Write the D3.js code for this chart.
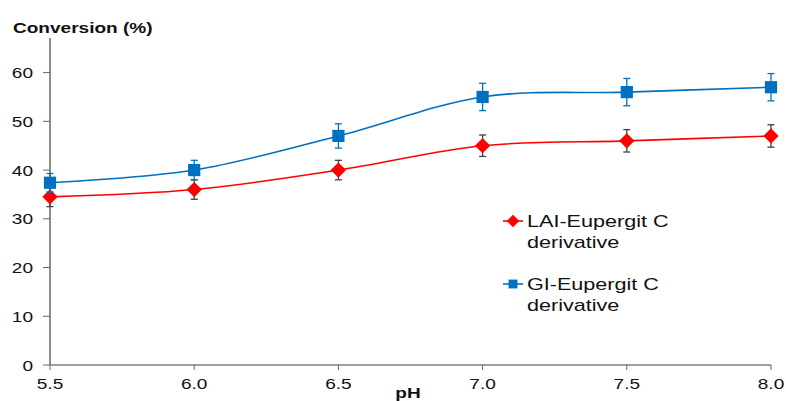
<!DOCTYPE html>
<html>
<head>
<meta charset="utf-8">
<script src="https://d3js.org/d3.v7.min.js"></script>
<style>
  body { margin: 0; background: #fff; }
  svg { display: block; font-family: Arial, "Liberation Sans", sans-serif; }
</style>
</head>
<body>
<div id="chart"></div>
<script>
// data
const phValues = [5.5, 6.0, 6.5, 7.0, 7.5, 8.0];
const xTicks = ["5.5", "6.0", "6.5", "7.0", "7.5", "8.0"];
const yTicks = [0, 10, 20, 30, 40, 50, 60];
const laiValues = [34.5, 36, 40, 45, 46, 47];
const laiErrors = [2, 2, 2, 2.2, 2.3, 2.3];
const giValues = [37.4, 40, 47, 55, 56, 57];
const giErrors = [1.9, 2, 2.5, 2.8, 2.8, 2.8];

const width = 786, height = 401;
const sx = 1.27; // the original picture is stretched sideways

let svg = d3.select("#chart").append("svg")
  .attr("width", width)
  .attr("height", height);

let x = d3.scaleLinear().domain([5.5, 8.0]).range([50, 771]);
let y = d3.scaleLinear().domain([0, 67.1]).range([365, 38]);

function stretchedText(g, px, py, str) {
  return g.append("text")
    .attr("transform", "translate(" + px + "," + py + ") scale(" + sx + ",1)")
    .text(str);
}

// axes
let axisColor = "#404040";
svg.append("line")
  .attr("x1", x(5.5)).attr("x2", x(5.5))
  .attr("y1", y.range()[1]).attr("y2", y(0))
  .attr("stroke", axisColor).attr("stroke-width", 1.2);
svg.append("line")
  .attr("x1", x(5.5)).attr("x2", x(8.0))
  .attr("y1", y(0)).attr("y2", y(0))
  .attr("stroke", axisColor).attr("stroke-width", 1.2);

yTicks.forEach(function(t) {
  svg.append("line")
    .attr("x1", x(5.5) - 7).attr("x2", x(5.5))
    .attr("y1", y(t)).attr("y2", y(t))
    .attr("stroke", "#666");
  stretchedText(svg, 33, y(t) + 5.5, t)
    .attr("text-anchor", "end")
    .attr("font-size", 15)
    .attr("fill", "#111");
});

phValues.forEach(function(p, i) {
  svg.append("line")
    .attr("x1", x(p)).attr("x2", x(p))
    .attr("y1", y(0)).attr("y2", y(0) + 5)
    .attr("stroke", "#666");
  stretchedText(svg, x(p), 389, xTicks[i])
    .attr("text-anchor", "middle")
    .attr("font-size", 15)
    .attr("fill", "#111");
});

stretchedText(svg, 13, 33, "Conversion (%)")
  .attr("font-size", 15)
  .attr("font-weight", "bold")
  .attr("fill", "#111");

stretchedText(svg, 408, 398, "pH")
  .attr("text-anchor", "middle")
  .attr("font-size", 15)
  .attr("font-weight", "bold")
  .attr("fill", "#111");

// series
let series = [
  { name: "LAI", values: laiValues, errors: laiErrors, color: "#FF0000", errColor: "#404040", shape: d3.symbolDiamond2 },
  { name: "GI", values: giValues, errors: giErrors, color: "#0070C0", errColor: "#0070C0", shape: d3.symbolSquare2 }
];

let line = d3.line()
  .x(function(d) { return x(d.ph); })
  .y(function(d) { return y(d.v); })
  .curve(d3.curveCatmullRom.alpha(0));

series.forEach(function(s) {
  let pts = phValues.map(function(p, i) { return { ph: p, v: s.values[i], e: s.errors[i] }; });

  svg.append("path")
    .datum(pts)
    .attr("d", line)
    .attr("fill", "none")
    .attr("stroke", s.color)
    .attr("stroke-width", 1.6);

  let err = svg.append("g").attr("stroke", s.errColor).attr("stroke-width", 1.3);
  pts.forEach(function(d) {
    err.append("line")
      .attr("x1", x(d.ph)).attr("x2", x(d.ph))
      .attr("y1", y(d.v + d.e)).attr("y2", y(d.v - d.e));
    [d.v + d.e, d.v - d.e].forEach(function(v) {
      err.append("line")
        .attr("x1", x(d.ph) - 3.5).attr("x2", x(d.ph) + 3.5)
        .attr("y1", y(v)).attr("y2", y(v));
    });
  });

  svg.append("g").selectAll("path")
    .data(pts)
    .enter().append("path")
    .attr("transform", function(d) { return "translate(" + x(d.ph) + "," + y(d.v) + ")"; })
    .attr("d", d3.symbol().type(s.shape).size(s.name === "GI" ? 190 : 150))
    .attr("fill", s.color);
});

// legend
let legend = [
  { label: "LAI-Eupergit C", y: 221, color: "#FF0000", shape: d3.symbolDiamond2 },
  { label: "GI-Eupergit C", y: 284, color: "#0070C0", shape: d3.symbolSquare2 }
];

legend.forEach(function(l) {
  let g = svg.append("g");
  g.append("line")
    .attr("x1", 503).attr("x2", 523)
    .attr("y1", l.y).attr("y2", l.y)
    .attr("stroke", l.color).attr("stroke-width", 1.6);
  g.append("path")
    .attr("transform", "translate(513," + l.y + ")")
    .attr("d", d3.symbol().type(l.shape).size(100))
    .attr("fill", l.color);
  stretchedText(g, 527, l.y + 5.5, l.label)
    .attr("font-size", 17)
    .attr("fill", "#111");
  stretchedText(g, 527, l.y + 26.5, "derivative")
    .attr("font-size", 17)
    .attr("fill", "#111");
});
</script>
</body>
</html>
